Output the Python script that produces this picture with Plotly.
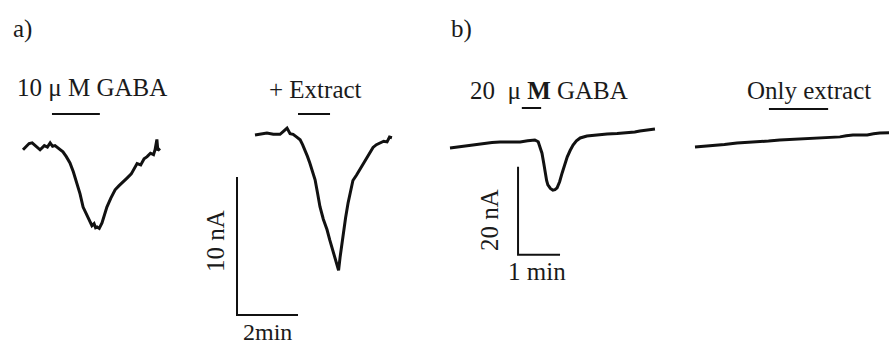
import plotly.graph_objects as go

W, H = 889, 345

# ---------------- data (time in min, current in nA, relative to baseline) ----------------
# panel a, trace 1: 10 uM GABA
t_a1 = [0.00, 0.10, 0.20, 0.30, 0.42, 0.56, 0.70, 0.80, 0.89, 0.97, 1.05, 1.18, 1.31, 1.42, 1.54, 1.65,
        1.77, 1.87, 1.97, 2.10, 2.20, 2.26, 2.33, 2.38, 2.43, 2.50, 2.59, 2.67, 2.75, 2.88, 3.02, 3.15,
        3.28, 3.41, 3.55, 3.64, 3.74, 3.86, 3.97, 4.07, 4.18, 4.28, 4.33, 4.39, 4.42, 4.49]
i_a1 = [-0.20, 0.05, 0.25, 0.30, 0.05, -0.20, 0.10, 0.00, 0.30, 0.05, 0.10, -0.10, -0.35, -0.70, -1.15, -1.80,
        -2.60, -3.40, -4.35, -5.00, -5.45, -5.70, -5.55, -5.85, -5.80, -5.90, -5.50, -4.90, -4.35, -3.70, -3.10, -2.80,
        -2.55, -2.25, -1.95, -1.60, -1.20, -1.30, -0.85, -0.70, -0.45, -0.55, -0.20, 0.55, -0.25, -0.10]
stim_a1 = [0.95, 2.52]

# panel a, trace 2: + Extract
t_a2 = [0.00, 0.15, 0.39, 0.60, 0.82, 0.95, 1.05, 1.15, 1.25, 1.37, 1.48, 1.56, 1.64, 1.72, 1.80, 1.88,
        1.97, 2.05, 2.13, 2.24, 2.36, 2.45, 2.52, 2.60, 2.69, 2.74, 2.79, 2.84, 2.89, 2.97, 3.05, 3.13,
        3.21, 3.33, 3.44, 3.55, 3.67, 3.77, 3.87, 3.98, 4.10, 4.22, 4.33, 4.41, 4.49]
i_a2 = [0.00, 0.05, 0.15, 0.05, 0.05, 0.30, 0.50, 0.10, 0.05, -0.15, -0.35, -0.70, -1.10, -1.55, -2.05, -2.60,
        -3.25, -4.20, -5.20, -6.10, -6.85, -7.60, -8.10, -8.70, -9.40, -9.80, -8.85, -8.00, -7.10, -6.00, -4.95, -4.00,
        -3.30, -2.90, -2.50, -2.05, -1.60, -1.20, -0.90, -0.70, -0.60, -0.45, -0.50, -0.15, -0.20]
stim_a2 = [1.41, 2.46]

# panel b, trace 3: 20 uM GABA
t_b1 = [0.00, 0.20, 0.40, 0.60, 0.79, 1.00, 1.19, 1.45, 1.67, 1.85, 2.02, 2.10, 2.15, 2.19, 2.23, 2.26,
        2.30, 2.33, 2.39, 2.45, 2.50, 2.55, 2.61, 2.67, 2.73, 2.79, 2.86, 2.93, 3.01, 3.10, 3.26, 3.50,
        3.74, 3.98, 4.21, 4.40, 4.52, 4.70, 4.88]
i_b1 = [-0.25, 0.00, 0.25, 0.60, 0.90, 1.00, 1.15, 1.20, 1.15, 1.40, 1.60, 1.20, 0.00, -1.40, -3.60, -5.90,
        -7.60, -8.60, -9.40, -9.80, -9.70, -9.30, -7.90, -5.90, -4.00, -2.30, -0.80, 0.45, 1.40, 2.05, 2.50, 2.75,
        2.95, 3.05, 3.20, 3.40, 3.65, 3.85, 4.10]
stim_b1 = [1.71, 2.17]

# panel b, trace 4: Only extract
t_b2 = [0.00, 0.43, 0.70, 1.00, 1.25, 1.48, 1.75, 2.02, 2.25, 2.43, 2.75, 3.05, 3.25, 3.45, 3.60, 3.76,
        3.95, 4.10, 4.25, 4.40, 4.62]
i_b2 = [0.00, 0.25, 0.55, 0.90, 1.00, 1.15, 1.35, 1.60, 1.70, 1.85, 1.90, 2.05, 2.20, 2.30, 2.55, 2.75,
        2.70, 2.75, 3.00, 3.20, 3.25]
stim_b2 = [1.76, 3.17]

# scale bars: (time length in min, current length in nA)
scale_a = (2, 10)
scale_b = (1, 20)

labels_top = ["10 \u03bc M GABA", "+ Extract", "20  \u03bc <b>M</b> GABA", "Only extract"]
scale_labels = ["10 nA", "2min", "20 nA", "1 min"]
panel_labels = ["a)", "b)"]

# ---------------- layout helpers ----------------
FONT = "Liberation Serif, Times New Roman, serif"
INK = "#111111"
TXT = "#1a1a1a"

fig = go.Figure()
layout = dict(width=W, height=H, margin=dict(l=0, r=0, t=0, b=0),
              paper_bgcolor="white", plot_bgcolor="white", showlegend=False)


def place(k, ox, oy, sx, sy, L, R, T, B):
    """Create axis pair k with origin (ox, oy) px and scale sx px/min, sy px/nA."""
    xs = "xaxis" if k == 1 else f"xaxis{k}"
    ys = "yaxis" if k == 1 else f"yaxis{k}"
    layout[xs] = dict(domain=[L / W, R / W], range=[(L - ox) / sx, (R - ox) / sx],
                      visible=False, anchor=("y" if k == 1 else f"y{k}"))
    layout[ys] = dict(domain=[1 - B / H, 1 - T / H], range=[-(B - oy) / sy, -(T - oy) / sy],
                      visible=False, anchor=("x" if k == 1 else f"x{k}"))
    return ("x" if k == 1 else f"x{k}"), ("y" if k == 1 else f"y{k}")


SXA, SYA = 30.5, 13.8
SXB, SYB = 42.0, 4.4
ax1 = place(1, 23, 147, SXA, SYA, 0, 200, 95, 345)
ax2 = place(2, 255, 135, SXA, SYA, 200, 440, 95, 345)
ax3 = place(3, 450, 147, SXB, SYB, 440, 680, 95, 345)
ax4 = place(4, 695, 147, SXB, SYB, 680, 889, 95, 345)

traces = [(t_a1, i_a1, ax1), (t_a2, i_a2, ax2), (t_b1, i_b1, ax3), (t_b2, i_b2, ax4)]
for t, i, (xa, ya) in traces:
    fig.add_trace(go.Scatter(x=t, y=i, xaxis=xa, yaxis=ya, mode="lines",
                             line=dict(color=INK, width=3), hoverinfo="skip"))

# stimulus bars (level in nA on each trace's axis)
stims = [(stim_a1, 2.39, ax1), (stim_a2, 1.52, ax2), (stim_b1, 8.86, ax3), (stim_b2, 8.64, ax4)]
for s, lvl, (xa, ya) in stims:
    fig.add_trace(go.Scatter(x=s, y=[lvl, lvl], xaxis=xa, yaxis=ya, mode="lines",
                             line=dict(color=INK, width=2), hoverinfo="skip"))

# scale bars
for (dt, di), t0, i0, (xa, ya) in [(scale_a, -0.59, -13.04, ax2), (scale_b, 1.62, -24.5, ax3)]:
    fig.add_trace(go.Scatter(x=[t0, t0, t0 + dt], y=[i0 + di, i0, i0], xaxis=xa, yaxis=ya,
                             mode="lines", line=dict(color=INK, width=2), hoverinfo="skip"))

ann = []


def txt(s, px, py, size=25, angle=0):
    ann.append(dict(text=s, x=px / W, y=1 - py / H, xref="paper", yref="paper",
                    showarrow=False, xanchor="center", yanchor="middle", textangle=angle,
                    font=dict(family=FONT, size=size, color=TXT)))


txt(panel_labels[0], 22, 29)
txt(panel_labels[1], 462, 29)
txt(labels_top[0], 92, 87)
txt(labels_top[1], 315, 89)
txt(labels_top[2], 549, 90)
txt(labels_top[3], 809, 90)
txt(scale_labels[0], 215, 241, angle=-90)
txt(scale_labels[1], 267, 332, size=24)
txt(scale_labels[2], 490, 220, angle=-90)
txt(scale_labels[3], 537, 271)

layout["annotations"] = ann
fig.update_layout(**layout)
fig.write_html("out.html")
